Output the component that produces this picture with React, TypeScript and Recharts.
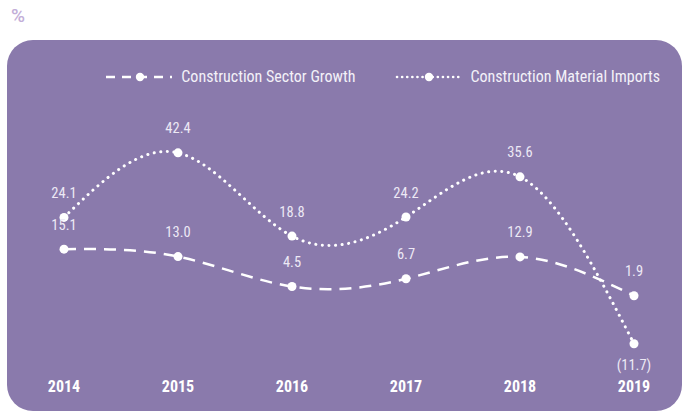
import React from 'react';
import { LineChart, Line, XAxis, YAxis, Legend, LabelList } from 'recharts';

const years = ['2014', '2015', '2016', '2017', '2018', '2019'];
const sectorGrowth = [15.1, 13.0, 4.5, 6.7, 12.9, 1.9];
const materialImports = [24.1, 42.4, 18.8, 24.2, 35.6, -11.7];
const seriesKeys = ['growth', 'imports'];
const seriesNames = ['Construction Sector Growth', 'Construction Material Imports'];

const data = years.map((y, i) => ({ year: y, growth: sectorGrowth[i], imports: materialImports[i] }));

const FONT = "'Roboto Condensed', 'Liberation Sans Narrow', Roboto, sans-serif";
const PANEL = '#8a7aac';

const fmt = (v: number) => (v < 0 ? `(${Math.abs(v).toFixed(1)})` : v.toFixed(1));

const ValueLabel = (props: any) => {
  const { x, y, value } = props;
  const dy = value < 0 ? 22 : -24;
  return (
    <text x={x} y={y + dy} textAnchor="middle" dominantBaseline="central" fill="#ede9f5" fontSize={14.5} fontFamily={FONT}>
      {fmt(value)}
    </text>
  );
};

const XTick = (props: any) => {
  const { x, y, payload } = props;
  return (
    <text x={x} y={y} dy="0.71em" textAnchor="middle" fill="#ffffff" fontSize={16} fontWeight={700} fontFamily={FONT}>
      {payload.value}
    </text>
  );
};

const LegendContent = (props: any) => {
  const items = [...(props.payload || [])].sort(
    (a: any, b: any) => seriesKeys.indexOf(a.dataKey) - seriesKeys.indexOf(b.dataKey)
  );
  return (
    <div style={{ display: 'flex', justifyContent: 'flex-end', alignItems: 'center', paddingRight: 28, gap: 40, fontFamily: FONT, fontSize: 16, color: '#f3f1f8' }}>
      {items.map((it: any, i: number) => (
        <div key={i} style={{ display: 'flex', alignItems: 'center' }}>
          <svg width={66} height={12} style={{ marginRight: 9 }}>
            {it.dataKey === 'growth' ? (
              <line x1={0} y1={6} x2={66} y2={6} stroke="#fff" strokeWidth={2.5} strokeDasharray="9 7" />
            ) : (
              <line x1={2} y1={6} x2={66} y2={6} stroke="#fff" strokeWidth={2.6} strokeDasharray="0.1 5" strokeLinecap="round" />
            )}
            <circle cx={34} cy={6} r={4.2} fill="#fff" />
          </svg>
          <span>{it.value}</span>
        </div>
      ))}
    </div>
  );
};

export default function App() {
  return (
    <div style={{ position: 'absolute', left: 0, top: 0, width: 688, height: 416, background: '#fff' }}>
      <div style={{ position: 'absolute', left: 11, top: 5, fontFamily: 'Roboto, sans-serif', fontSize: 19, fontWeight: 500, color: '#c3aed8', lineHeight: '22px' }}>%</div>
      <div style={{ position: 'absolute', left: 7, top: 40, width: 675, height: 371, borderRadius: 26, background: PANEL }} />
      <div style={{ position: 'absolute', left: 0, top: 0 }}>
        <LineChart width={688} height={416} data={data} margin={{ top: 126, right: 54, bottom: 13, left: 64 }}>
          <XAxis dataKey="year" axisLine={false} tickLine={false} height={30} tick={<XTick />} interval={0} />
          <YAxis hide domain={[-20, 50]} />
          <Legend layout="horizontal" verticalAlign="middle" content={<LegendContent />} wrapperStyle={{ top: 67, left: 0, width: 688 }} />
          <Line name={seriesNames[0]} dataKey="growth" type="natural" stroke="#fff" strokeWidth={2.5} strokeDasharray="12 8" dot={{ r: 4.5, fill: '#fff', stroke: 'none' }} isAnimationActive={false}>
            <LabelList dataKey="growth" content={<ValueLabel />} />
          </Line>
          <Line name={seriesNames[1]} dataKey="imports" type="natural" stroke="#fff" strokeWidth={3} strokeDasharray="0.1 6.5" strokeLinecap="round" dot={{ r: 4.5, fill: '#fff', stroke: 'none' }} isAnimationActive={false}>
            <LabelList dataKey="imports" content={<ValueLabel />} />
          </Line>
        </LineChart>
      </div>
    </div>
  );
}
